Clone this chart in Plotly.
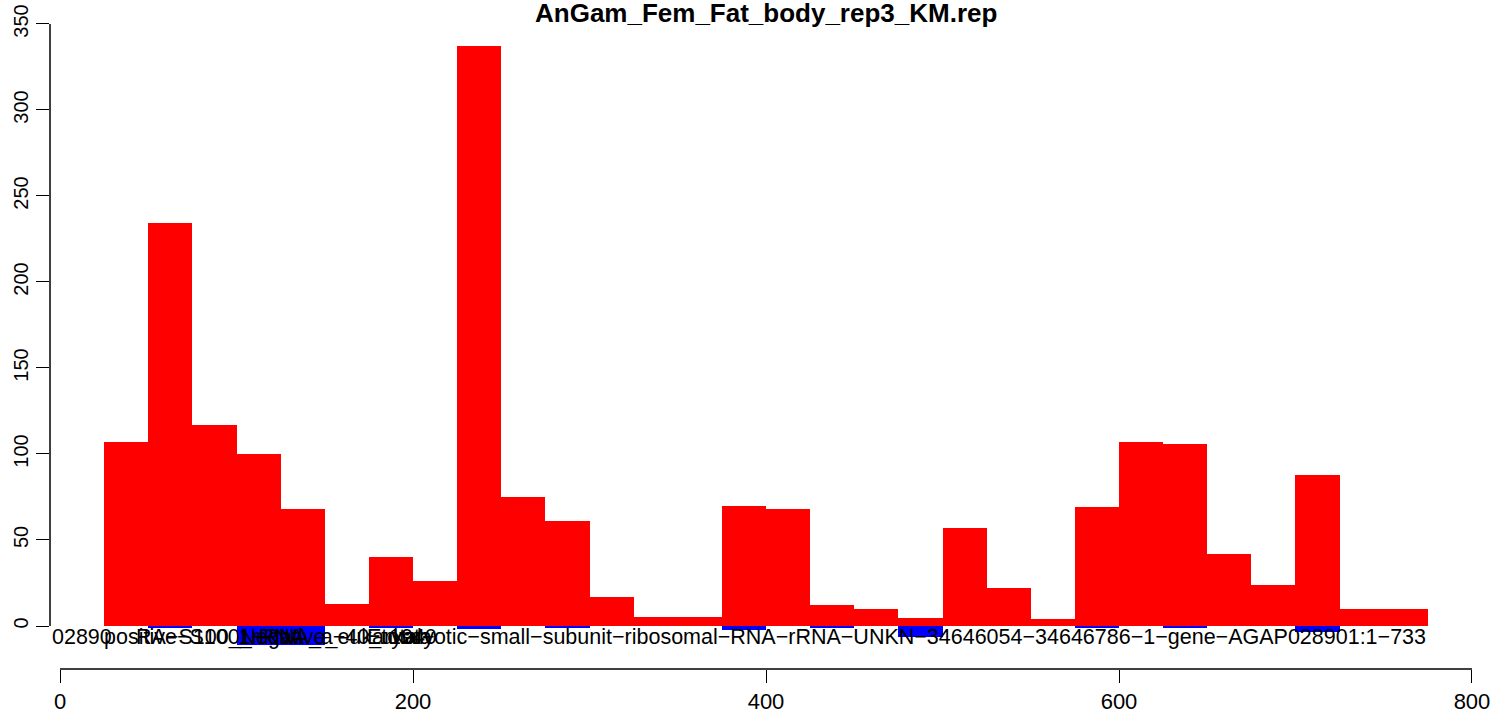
import plotly.graph_objects as go

title = "AnGam_Fem_Fat_body_rep3_KM.rep"
bin_starts = [25 + 25 * k for k in range(30)]
bin_width = 25
pos_values = [107, 234, 117, 100, 68, 13, 40, 26, 337, 75, 61, 17, 5, 5, 70,
              68, 12, 10, 4.6, 57, 22, 4, 69, 107, 106, 42, 24, 88, 10, 10]
neg_values = [0, -1, 0, -11, -11, 0, -1, 0, -1.5, 0, -0.7, 0, 0, 0, -2.5,
              0, -1, 0, -6.5, 0, 0, 0, -0.7, 0, -1, 0, 0, -3.5, 0, 0]
x_ticks = [0, 200, 400, 600, 800]
y_ticks = [0, 50, 100, 150, 200, 250, 300, 350]
label_main = "Eukaryotic−small−subunit−ribosomal−RNA−rRNA−UNKN−34646054−34646786−1−gene−AGAP028901:1−733"
label_left1 = "02890"
label_left2 = "positive−S100_rRNA"
label_left3 = "RA−S100_Negative_eukaryota"
label_left4 = "1−RNA_a−40_total−"
label_left5 = "1940"

centers = [s + bin_width / 2 for s in bin_starts]

FONT = "Liberation Sans, Arial, Helvetica, sans-serif"
LBL = 21.5

fig = go.Figure()
fig.add_trace(go.Bar(x=centers, y=pos_values, width=bin_width,
                     marker=dict(color="#FF0000", line=dict(width=0)),
                     showlegend=False))
fig.add_trace(go.Bar(x=centers, y=neg_values, width=bin_width,
                     marker=dict(color="#0000FF", line=dict(width=0)),
                     showlegend=False))


def lab(text, x, anchor):
    return dict(text=text, x=x, y=-6.4, xref="x", yref="y",
                xanchor=anchor, yanchor="middle", showarrow=False,
                font=dict(size=LBL, color="black", family=FONT))


ann = [
    lab(label_main, bin_starts[-1] + bin_width, "right"),
    lab(label_left1, -5.67, "left"),
    lab(label_left2, 24, "left"),
    lab(label_left3, 42, "left"),
    lab(label_left4, 100, "left"),
    lab(label_left5, 185, "left"),
    dict(text="<b>" + title + "</b>", x=0.5, y=1, xref="paper", yref="paper",
         xanchor="center", yanchor="middle", yshift=7, showarrow=False,
         font=dict(size=26, color="black", family=FONT)),
]

shapes = [
    dict(type="line", xref="x", yref="paper", x0=x_ticks[0], x1=x_ticks[-1], y0=0, y1=0,
         line=dict(color="black", width=1.5)),
    dict(type="line", xref="paper", yref="y", x0=0, x1=0, y0=y_ticks[0], y1=y_ticks[-1],
         line=dict(color="black", width=1.5)),
]

fig.update_layout(
    width=1506, height=719,
    margin=dict(l=50, r=24, t=20, b=50, pad=0, autoexpand=False),
    paper_bgcolor="white", plot_bgcolor="white",
    barmode="overlay", bargap=0,
    annotations=ann, shapes=shapes,
    font=dict(family=FONT, size=20, color="black"),
    xaxis=dict(range=[-5.67, 805.67], tickvals=x_ticks, ticks="outside", ticklen=13,
               tickcolor="black", tickwidth=1, showgrid=False, zeroline=False,
               showline=False, automargin=False, tickfont=dict(size=22, family=FONT)),
    yaxis=dict(range=[-25.0, 352.3], tickvals=y_ticks, ticks="outside", ticklen=13,
               tickcolor="black", tickwidth=1, showgrid=False, zeroline=False,
               showline=False, automargin=False, tickangle=-90,
               tickfont=dict(size=20, family=FONT)),
)

fig.write_html("out.html", config={"displayModeBar": False},
               post_script="document.body.style.margin='0';document.body.style.overflow='hidden';")
